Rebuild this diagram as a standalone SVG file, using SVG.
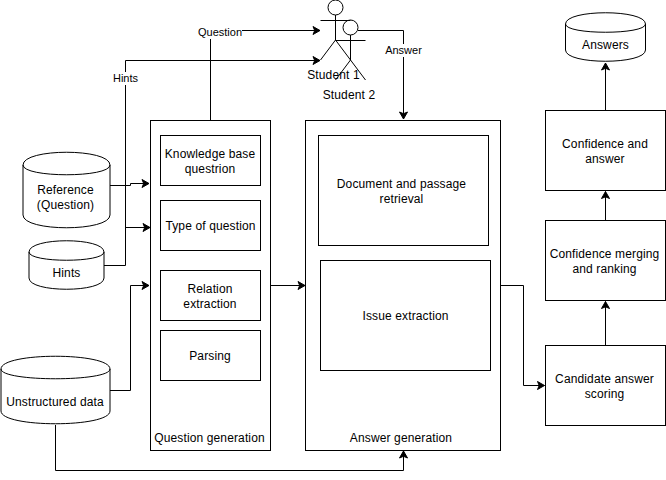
<svg xmlns="http://www.w3.org/2000/svg" width="666" height="480" viewBox="0 0 666 480">
<style>
text{font-family:"Liberation Sans",Arial,sans-serif;font-size:12px;fill:#000;text-anchor:middle;letter-spacing:.13px}
text.l{font-size:11px;letter-spacing:0}
.s{fill:#fff;stroke:#000;stroke-width:1}
.n{fill:none;stroke:#000;stroke-width:1}
.c{fill:none;stroke:#000;stroke-width:1;marker-end:url(#a)}
.bg{fill:#fff;stroke:none}
</style>
<defs>
<marker id="a" markerUnits="userSpaceOnUse" markerWidth="10" markerHeight="10" refX="7" refY="4" orient="auto" overflow="visible">
<path d="M0 0L7 4L0 8L1.700 4Z" fill="#000" stroke="#000" stroke-width="1"/>
</marker>
</defs>
<rect width="666" height="480" fill="#fff"/>
<g id="connectors">
<path class="c" d="M210.500 120.500V30.500H320"/>
<path class="c" d="M104 265.500H125.500V60.500H320"/>
<path class="c" d="M110 185.500H130.500V183.500H149"/>
<path class="c" d="M125.500 227.500H150"/>
<path class="c" d="M110 390.500H130.500V285.500H149"/>
<path class="c" d="M55.500 425V470.500H403.500V451"/>
<path class="c" d="M270.500 285.500H305"/>
<path class="c" d="M358 30.500H403.500V119"/>
<path class="c" d="M500.500 285.500H523.500V385.500H544.500"/>
<path class="c" d="M605.500 345V301.500"/>
<path class="c" d="M605.500 220V191.500"/>
<path class="c" d="M605.500 110V63"/>
</g>
<g id="label-question"><rect class="bg" x="198" y="26" width="44" height="13"/><text class="l" x="220" y="36">Question</text></g>
<g id="label-hints"><rect class="bg" x="113" y="72" width="25" height="13"/><text class="l" x="125.500" y="82">Hints</text></g>
<g id="label-answer"><rect class="bg" x="385" y="44" width="37" height="13"/><text class="l" x="403.500" y="54">Answer</text></g>
<g id="student1">
<circle class="n" cx="335.500" cy="7.500" r="7.500"/>
<path class="n" d="M335.500 15V40M320.500 20.500H350.500M335.500 40L320.500 60M335.500 40L350.500 60"/>
<text x="333.500" y="79">Student 1</text>
</g>
<g id="student2">
<circle class="n" cx="350.500" cy="27.500" r="7.500"/>
<path class="n" d="M350.500 35V60M335.500 40.500H365.500M350.500 60L335.500 80M350.500 60L365.500 80"/>
<text x="349" y="99">Student 2</text>
</g>
<g id="reference"><path class="s" d="M23 165C23 148 110 148 110 165V215C110 232 23 232 23 215Z"/><path class="n" d="M23 165C23 178 110 178 110 165"/><text x="65.500" y="194">Reference</text><text x="65.500" y="209">(Question)</text></g>
<g id="hints"><path class="s" d="M29 252C29 237 104 237 104 252V278C104 293 29 293 29 278Z"/><path class="n" d="M29 252C29 263 104 263 104 252"/><text x="66.500" y="277">Hints</text></g>
<g id="unstructured"><path class="s" d="M1 369C1 352 110 352 110 369V411C110 428 1 428 1 411Z"/><path class="n" d="M1 369C1 382 110 382 110 369"/><text x="55" y="406">Unstructured data</text></g>
<g id="question-generation"><rect class="s" x="150.500" y="120.500" width="120" height="330"/><text x="209.500" y="442">Question generation</text></g>
<g id="kb"><rect class="s" x="160.500" y="135.500" width="100" height="50"/><text x="210" y="158">Knowledge base</text><text x="210" y="173">questrion</text></g>
<g id="type"><rect class="s" x="160.500" y="200.500" width="100" height="50"/><text x="210.500" y="230">Type of question</text></g>
<g id="relation"><rect class="s" x="160.500" y="270.500" width="100" height="50"/><text x="210" y="293">Relation</text><text x="210" y="308">extraction</text></g>
<g id="parsing"><rect class="s" x="160.500" y="330.500" width="100" height="50"/><text x="210" y="360">Parsing</text></g>
<g id="answer-generation"><rect class="s" x="305.500" y="120.500" width="195" height="330"/><text x="401" y="442">Answer generation</text></g>
<g id="retrieval"><rect class="s" x="318.500" y="135.500" width="170" height="110"/><text x="401.500" y="188">Document and passage</text><text x="401.500" y="203">retrieval</text></g>
<g id="issue"><rect class="s" x="320.500" y="260.500" width="170" height="110"/><text x="405.500" y="320">Issue extraction</text></g>
<g id="scoring"><rect class="s" x="545.500" y="345.500" width="120" height="80"/><text x="604.500" y="383">Candidate answer</text><text x="604.500" y="398">scoring</text></g>
<g id="merging"><rect class="s" x="545.500" y="220.500" width="120" height="80"/><text x="604.500" y="258">Confidence merging</text><text x="604.500" y="273">and ranking</text></g>
<g id="confidence"><rect class="s" x="545.500" y="110.500" width="120" height="80"/><text x="605" y="148">Confidence and</text><text x="605" y="163">answer</text></g>
<g id="answers"><path class="s" d="M565.500 24C565.500 9 645.500 9 645.500 24V50C645.500 65 565.500 65 565.500 50Z"/><path class="n" d="M565.500 24C565.500 35 645.500 35 645.500 24"/><text x="605.500" y="49">Answers</text></g>
</svg>
